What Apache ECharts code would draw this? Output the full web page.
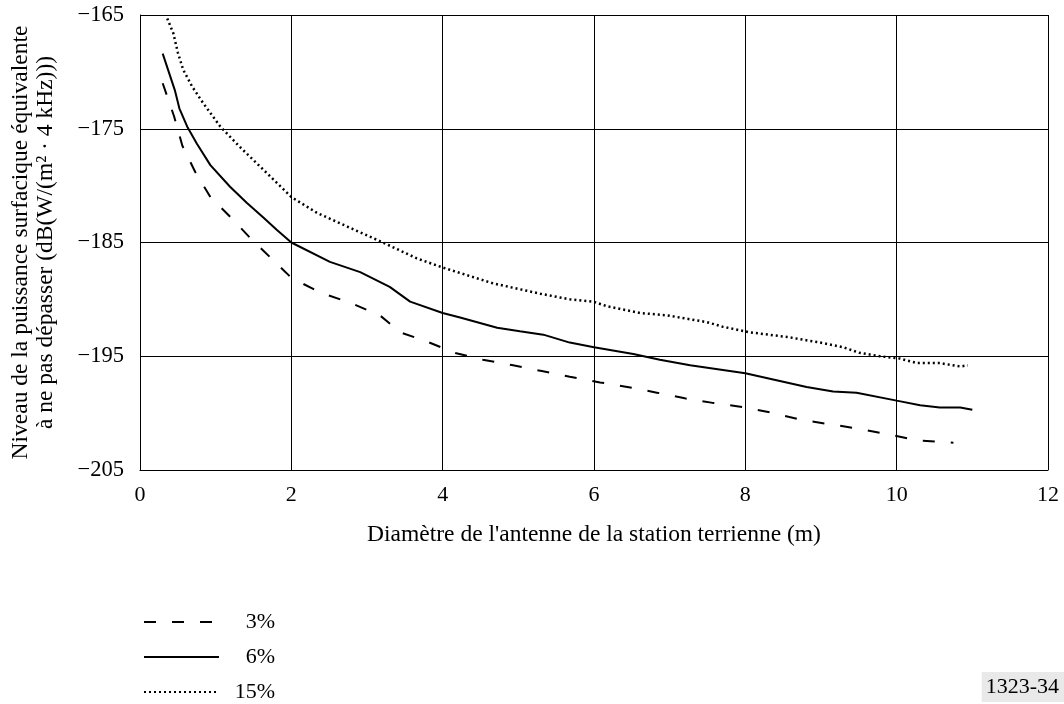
<!DOCTYPE html>
<html><head><meta charset="utf-8">
<script src="https://cdn.jsdelivr.net/npm/echarts@6/dist/echarts.min.js"></script>
<style>html,body{margin:0;padding:0;background:#fff}#c{width:1064px;height:704px}</style>
</head><body><div id="c"></div>
<script>
const xTicks = [0, 2, 4, 6, 8, 10, 12];
const yTicks = [-205, -195, -185, -175, -165];
const seriesNames = ['3%', '6%', '15%'];

const x3 = [0.30, 0.45, 0.56, 0.73, 0.93, 1.23, 1.47, 1.72, 2.0, 2.38, 2.78, 3.17, 3.44, 3.79, 4.16, 4.53, 4.93, 5.31, 5.68, 6.08, 6.44, 6.83, 7.20, 7.57, 8.0, 8.37, 8.75, 9.14, 9.52, 9.91, 10.28, 10.75];
const y3 = [-171.0, -173.9, -176.5, -178.8, -181.0, -183.0, -184.7, -186.3, -188.1, -189.4, -190.3, -191.4, -192.9, -193.7, -194.7, -195.3, -195.8, -196.3, -196.8, -197.3, -197.7, -198.2, -198.7, -199.1, -199.5, -200.0, -200.6, -201.0, -201.4, -201.9, -202.4, -202.6];

const x6 = [0.30, 0.46, 0.52, 0.63, 0.75, 0.93, 1.19, 1.41, 1.63, 1.81, 2.0, 2.51, 2.91, 3.3, 3.57, 4.0, 4.23, 4.72, 5.02, 5.33, 5.68, 6.0, 6.52, 6.87, 7.27, 8.0, 8.81, 9.16, 9.47, 10.0, 10.31, 10.57, 10.84, 11.0];
const y6 = [-168.4, -171.6, -173.2, -174.9, -176.3, -178.2, -180.1, -181.5, -182.8, -183.9, -185.0, -186.7, -187.6, -188.9, -190.2, -191.2, -191.6, -192.5, -192.8, -193.1, -193.8, -194.2, -194.8, -195.3, -195.8, -196.5, -197.7, -198.1, -198.2, -198.9, -199.3, -199.5, -199.5, -199.7];

const x15 = [0.36, 0.44, 0.50, 0.57, 0.69, 0.83, 1.06, 1.32, 1.63, 2.0, 2.34, 2.74, 3.21, 3.66, 4.0, 4.67, 5.29, 5.68, 5.99, 6.17, 6.61, 6.96, 7.14, 7.49, 7.7, 8.06, 8.55, 8.99, 9.29, 9.51, 9.78, 10.04, 10.27, 10.57, 10.84, 10.94];
const y15 = [-165.3, -166.6, -168.3, -169.8, -171.3, -172.7, -174.8, -176.6, -178.6, -181.0, -182.4, -183.6, -185.0, -186.4, -187.2, -188.6, -189.5, -190.0, -190.2, -190.6, -191.2, -191.4, -191.6, -192.0, -192.4, -192.9, -193.3, -193.8, -194.2, -194.7, -195.0, -195.2, -195.6, -195.6, -195.9, -195.8];

const zip = (xs, ys) => xs.map((x, i) => [x, ys[i]]);
const FONT = '"Liberation Serif", "Times New Roman", serif';

const chart = echarts.init(document.getElementById('c'), null, {renderer: 'canvas'});
const mk = (name, data, type, width) => ({
  name, type: 'line', data, showSymbol: false, symbol: 'none', smooth: false,
  lineStyle: {color: '#000', width, type},
  itemStyle: {color: '#000'}
});
const mkLegend = (name, top) => ({
  orient: 'horizontal', left: 143, top, itemWidth: 75, itemHeight: 18, padding: 0,
  data: [name],
  itemStyle: {opacity: 0},
  textStyle: {fontFamily: FONT, fontSize: 22, color: '#000',
    rich: {a: {width: 51, align: 'right', fontFamily: FONT, fontSize: 22, color: '#000'}}},
  formatter: n => '{a|' + n + '}'
});
chart.setOption({
  animation: false,
  backgroundColor: '#fff',
  textStyle: {fontFamily: FONT, color: '#000'},
  grid: {left: 140, right: 16, top: 15, bottom: 234, containLabel: false, outerBoundsMode: 'none'},
  xAxis: {
    type: 'value', min: xTicks[0], max: xTicks[xTicks.length - 1], interval: 2,
    axisLine: {lineStyle: {color: '#000', width: 1}},
    axisTick: {show: false},
    splitLine: {show: true, lineStyle: {color: '#000', width: 1}},
    axisLabel: {fontFamily: FONT, fontSize: 22, color: '#000', margin: 14},
    name: "Diamètre de l'antenne de la station terrienne (m)",
    nameLocation: 'middle', nameGap: 53,
    nameTextStyle: {fontFamily: FONT, fontSize: 23.5, color: '#000'}
  },
  yAxis: {
    type: 'value', min: yTicks[0], max: yTicks[yTicks.length - 1], interval: 10,
    axisLine: {show: true, lineStyle: {color: '#000', width: 1}},
    axisTick: {show: false},
    splitLine: {show: true, lineStyle: {color: '#000', width: 1}},
    axisLabel: {fontFamily: FONT, fontSize: 22.5, color: '#000', margin: 16,
      formatter: v => String(v).replace('-', '\u2212')},
    name: 'Niveau de la puissance surfacique équivalente\nà ne pas dépasser (dB(W/(m² · 4 kHz)))',
    nameLocation: 'middle', nameGap: 82, nameRotate: 90,
    nameTextStyle: {fontFamily: FONT, fontSize: 23.5, color: '#000', lineHeight: 25}
  },
  legend: [mkLegend(seriesNames[0], 611), mkLegend(seriesNames[1], 646), mkLegend(seriesNames[2], 681)],
  title: {
    text: '1323-34', right: 0, top: 672, padding: [4, 5, 4, 4],
    backgroundColor: '#e9e9e9',
    textStyle: {fontFamily: FONT, fontSize: 22, fontWeight: 'normal', color: '#000'}
  },
  series: [
    mk(seriesNames[0], zip(x3, y3), [12, 16], 2),
    mk(seriesNames[1], zip(x6, y6), 'solid', 2),
    mk(seriesNames[2], zip(x15, y15), [2, 3], 2.5)
  ]
});
</script></body></html>
